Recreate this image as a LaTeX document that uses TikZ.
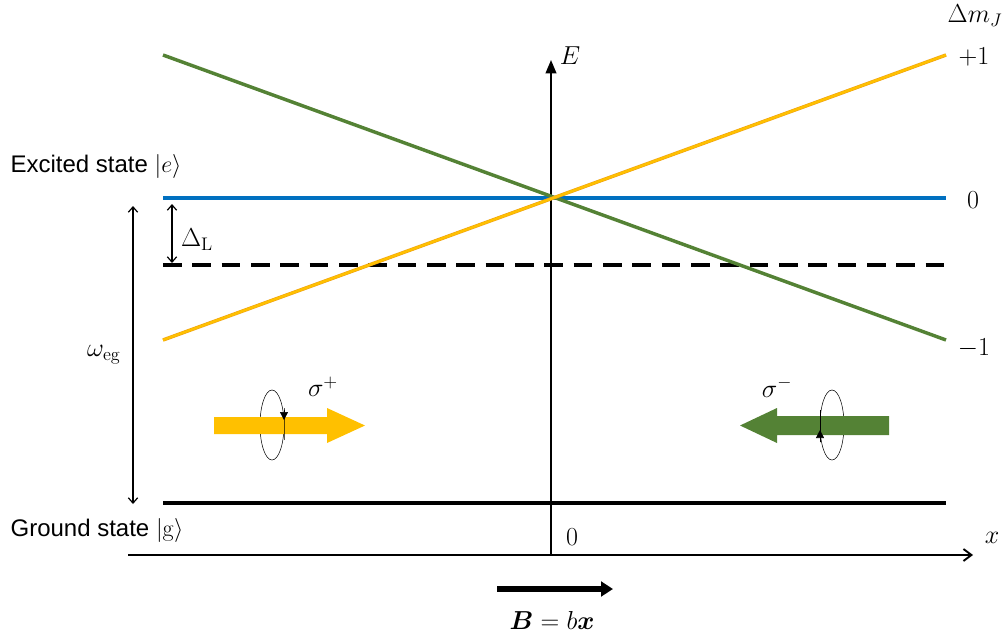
\documentclass[tikz,border=0pt]{standalone}
\usepackage{fix-cm}
\usepackage[no-math]{fontspec}
\setmainfont{Liberation Sans}
\usepackage{amsmath}
\usepackage{xcolor}
\usetikzlibrary{arrows.meta}

\definecolor{levelblue}{RGB}{0,112,192}
\definecolor{sigmagreen}{RGB}{84,130,53}
\definecolor{sigmayellow}{RGB}{255,192,0}
\definecolor{yellowedge}{RGB}{237,160,20}

\tikzset{
  level/.style={line width=2.6pt},
  axis/.style={line width=1.4pt, -{Triangle[length=10pt,width=8pt]}},
  gap/.style={line width=0.9pt, {Straight Barb[length=4pt,width=7pt]}-{Straight Barb[length=4pt,width=7pt]}},
  pol/.style={line width=0.4pt},
  lbl/.style={inner sep=1pt, font=\fontsize{18}{21}\selectfont},
  mlbl/.style={inner sep=1pt, font=\fontsize{19.5}{23}\selectfont}
}

\begin{document}
\begin{tikzpicture}[x=0.75pt, y=-0.75pt]
    \useasboundingbox (0,0) rectangle (1002,639);

    % end points of the levels and axes
    \coordinate (L0) at (163,198);  \coordinate (R0) at (946,198);
    \coordinate (LD) at (163,265);  \coordinate (RD) at (946,265);
    \coordinate (LG) at (163,503);  \coordinate (RG) at (946,503);
    \coordinate (GL) at (163,55);   \coordinate (GR) at (946,340);
    \coordinate (YL) at (163,340);  \coordinate (YR) at (946,55);
    \coordinate (Ebot) at (551,555); \coordinate (Etop) at (551,60);
    \coordinate (Xl) at (128,555);  \coordinate (Xr) at (973,555);
    \coordinate (Wt) at (133,206);  \coordinate (Wb) at (133,504);
    \coordinate (Dt) at (172,204);  \coordinate (Db) at (172,263);
    \coordinate (Bl) at (497,589);  \coordinate (Br) at (613,589);

    % axes
    \draw[axis] (Ebot) -- (Etop);
    \draw[axis, -{Straight Barb[length=6pt,width=9pt]}] (Xl) -- (Xr);

    % levels
    \draw[level, levelblue] (L0) -- (R0);
    \draw[level, dash pattern=on 14pt off 8pt] (LD) -- (RD);
    \draw[level, line width=3pt] (LG) -- (RG);
    \draw[level, sigmagreen] (GL) -- (GR);
    \draw[level, yellowedge] (YL) -- (YR);
    \draw[level, line width=1.8pt, sigmayellow] (YL) -- (YR);

    % gaps
    \draw[gap] (Wt) -- (Wb);
    \draw[gap] (Dt) -- (Db);

    % sigma+ beam
    \draw[pol] (272,425) ellipse [x radius=12, y radius=35];
    \fill[sigmayellow] (214,417) -- (327,417) -- (327,408) -- (365,425.5)
        -- (327,443) -- (327,434) -- (214,434) -- cycle;
    \draw[pol, -{Triangle[length=6pt,width=6pt]}] (284,440) -- (284,408) -- (284,420);

    % sigma- beam
    \draw[pol] (832,425) ellipse [x radius=12, y radius=35];
    \fill[sigmagreen] (889,416) -- (777,416) -- (777,408) -- (740,425.5)
        -- (777,443) -- (777,435) -- (889,435) -- cycle;
    \draw[pol, -{Triangle[length=6pt,width=6pt]}] (820,410) -- (820,442) -- (820,430);

    % field
    \draw[line width=4pt, -{Triangle[length=9pt,width=11pt]}] (Bl) -- (Br);

    % labels
    \node[mlbl] (lE) at (570,56) {$E$};
    \node[mlbl] (lx) at (992,538) {$x$};
    \node[mlbl] (lzero) at (572,537) {$0$};
    \node[mlbl] (dmj) at (975,16) {$\Delta m_J$};
    \node[mlbl] (mp) at (974,57) {$+1$};
    \node[mlbl] (mz) at (973,200) {$0$};
    \node[mlbl] (mm) at (974,348) {$-1$};
    \node[lbl, anchor=west] (exc) at (9,166) {Excited state $|e\rangle$};
    \node[lbl, anchor=west] (gnd) at (9,530) {Ground state $|\mathrm{g}\rangle$};
    \node[mlbl] (weg) at (104,355) {$\omega_{\mathrm{eg}}$};
    \node[mlbl] (dl) at (197,240) {$\Delta_{\mathrm{L}}$};
    \node[mlbl] (sp) at (323,387) {$\sigma^{+}$};
    \node[mlbl] (sm) at (777,387) {$\sigma^{-}$};
    \node[mlbl] (bx) at (552,620) {$\boldsymbol{B}=b\boldsymbol{x}$};
\end{tikzpicture}
\end{document}
